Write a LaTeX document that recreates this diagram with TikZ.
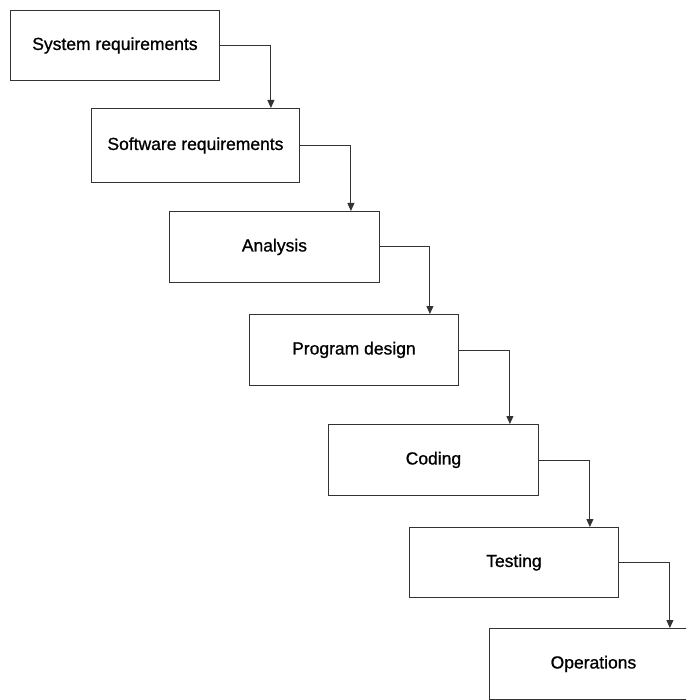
\documentclass[tikz,border=0pt]{standalone}
\usepackage{fontspec}
\setmainfont{Liberation Sans}
\newfontfamily\stagefont[FakeBold=0.9]{Liberation Sans}
\usetikzlibrary{arrows.meta}
\begin{document}
\begin{tikzpicture}[x=1pt,y=-1pt,
  stage/.style={draw=black!80, line width=0.9pt, anchor=north west,
    minimum width=209pt, minimum height=71pt, inner sep=0pt,
    font=\stagefont\fontsize{17.5}{20}\selectfont},
  flow/.style={draw=black!80, line width=0.9pt,
    -{Triangle[length=8pt,width=7pt]}}]
\useasboundingbox (0,0) rectangle (686,700);
\clip (0,0) rectangle (686,700);

% the stages, stepping down to the right
\node[stage, minimum height=70pt] (sys) at (10,10) {System requirements};
\node[stage, minimum width=208pt, minimum height=74pt] (sw) at (91,108) {Software requirements};
\node[stage, minimum width=210pt] (an) at (169,211) {Analysis};
\node[stage] (pd) at (249,314) {Program design};
\node[stage, minimum width=210pt] (cod) at (328,424) {Coding};
\node[stage, minimum height=70pt] (tst) at (409,527) {Testing};
\node[stage, minimum width=208pt, minimum height=71pt] (ops) at (489,628) {Operations};

% elbow connectors from each stage to the next
\draw[flow] (sys.east) -- ++(51,0) coordinate (k1) -- (k1 |- sw.north);
\draw[flow] (sw.east)  -- ++(51,0) coordinate (k2) -- (k2 |- an.north);
\draw[flow] (an.east)  -- ++(50,0) coordinate (k3) -- (k3 |- pd.north);
\draw[flow] (pd.east)  -- ++(51,0) coordinate (k4) -- (k4 |- cod.north);
\draw[flow] (cod.east) -- ++(51,0) coordinate (k5) -- (k5 |- tst.north);
\draw[flow] (tst.east) -- ++(51,0) coordinate (k6) -- (k6 |- ops.north);
\end{tikzpicture}
\end{document}
